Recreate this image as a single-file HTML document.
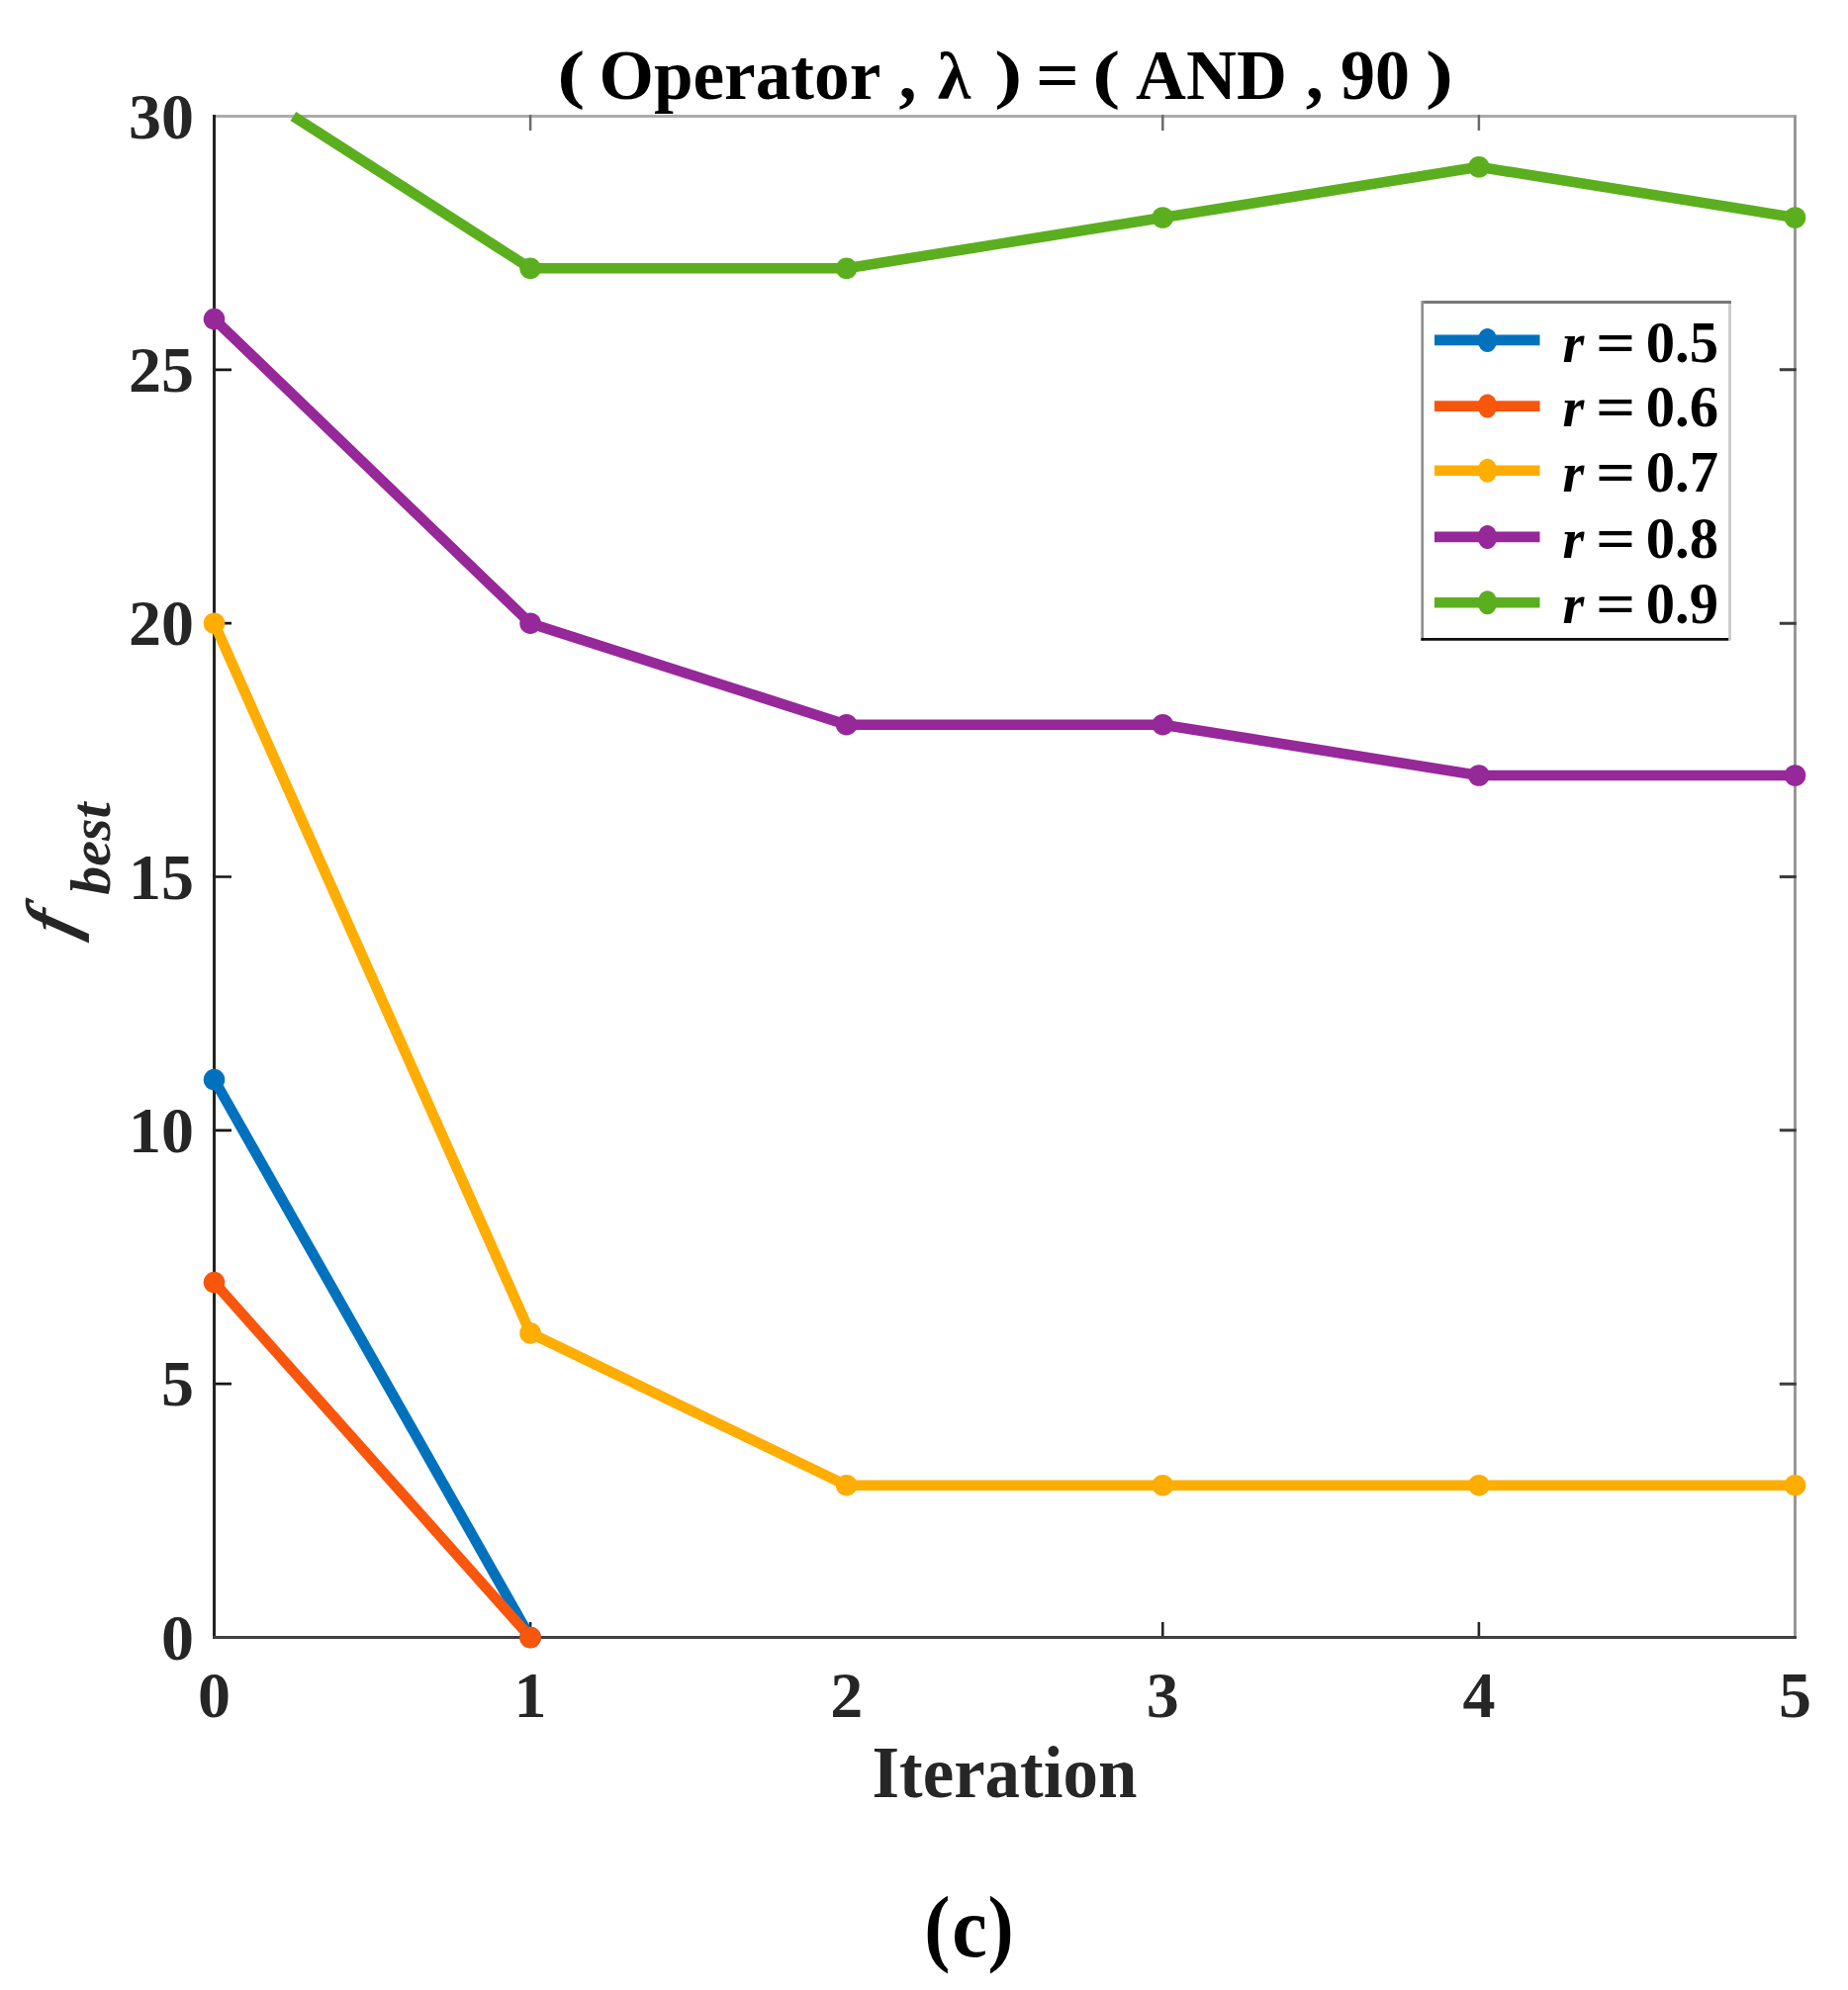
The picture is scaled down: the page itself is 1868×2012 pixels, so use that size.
<!DOCTYPE html>
<html lang="en"><head><meta charset="utf-8"><title>Figure (c)</title>
<style>html,body{margin:0;padding:0;background:#fff}svg{display:block}text{font-family:"Liberation Serif","DejaVu Serif",serif;font-weight:bold}</style>
</head><body>
<svg xmlns="http://www.w3.org/2000/svg" width="1868" height="2012" viewBox="0 0 1868 2012">
<rect width="1868" height="2012" fill="#fff"/>
<g fill="none" stroke-linecap="butt">
<path d="M216.5 117.5H1816" stroke="#ababab" stroke-width="3"/>
<path d="M1814.5 117.5V1655.5" stroke="#929292" stroke-width="2.8"/>
<path d="M536.1 116v16M1175.3 116v16M1494.9 116v16" stroke="#6a6a6a" stroke-width="2.5"/>
<path d="M536.1 1655.5v-15.5M1175.3 1655.5v-15.5M1494.9 1655.5v-15.5" stroke="#262626" stroke-width="2.6"/>
<path d="M216.5 1399.17h17.5M216.5 1142.83h17.5M216.5 886.5h17.5M216.5 630.167h17.5M216.5 373.833h17.5" stroke="#161616" stroke-width="2.7"/>
<path d="M1815.8 1399.17h-17M1815.8 1142.83h-17M1815.8 886.5h-17M1815.8 630.167h-17M1815.8 373.833h-17" stroke="#3c3c3c" stroke-width="3"/>
<path d="M216.5 116V1657" stroke="#222" stroke-width="3"/>
<path d="M215 1655.5H1816" stroke="#404040" stroke-width="3"/>
</g>
<polyline points="216.5,1091.6 536.1,1655.5" fill="none" stroke="#0072BD" stroke-width="10.6" stroke-linejoin="round" stroke-linecap="butt"/>
<polyline points="216.5,1296.6 536.1,1655.5" fill="none" stroke="#F8560C" stroke-width="10.6" stroke-linejoin="round" stroke-linecap="butt"/>
<polyline points="216.5,630.2 536.1,1347.9 855.7,1501.7 1175.3,1501.7 1494.9,1501.7 1814.5,1501.7" fill="none" stroke="#FFAD00" stroke-width="10.6" stroke-linejoin="round" stroke-linecap="butt"/>
<polyline points="216.5,322.6 536.1,630.2 855.7,732.7 1175.3,732.7 1494.9,784.0 1814.5,784.0" fill="none" stroke="#96289A" stroke-width="10.6" stroke-linejoin="round" stroke-linecap="butt"/>
<polyline points="296.4,117.5 536.1,271.3 855.7,271.3 1175.3,220.0 1494.9,168.8 1814.5,220.0" fill="none" stroke="#5BAF1E" stroke-width="10.6" stroke-linejoin="round" stroke-linecap="butt"/>
<circle cx="216.5" cy="1091.6" r="10.8" fill="#0072BD"/>
<circle cx="536.1" cy="1655.5" r="10.8" fill="#0072BD"/>
<circle cx="216.5" cy="1296.6" r="10.8" fill="#F8560C"/>
<circle cx="536.1" cy="1655.5" r="10.8" fill="#F8560C"/>
<circle cx="216.5" cy="630.2" r="10.8" fill="#FFAD00"/>
<circle cx="536.1" cy="1347.9" r="10.8" fill="#FFAD00"/>
<circle cx="855.7" cy="1501.7" r="10.8" fill="#FFAD00"/>
<circle cx="1175.3" cy="1501.7" r="10.8" fill="#FFAD00"/>
<circle cx="1494.9" cy="1501.7" r="10.8" fill="#FFAD00"/>
<circle cx="1814.5" cy="1501.7" r="10.8" fill="#FFAD00"/>
<circle cx="216.5" cy="322.6" r="10.8" fill="#96289A"/>
<circle cx="536.1" cy="630.2" r="10.8" fill="#96289A"/>
<circle cx="855.7" cy="732.7" r="10.8" fill="#96289A"/>
<circle cx="1175.3" cy="732.7" r="10.8" fill="#96289A"/>
<circle cx="1494.9" cy="784.0" r="10.8" fill="#96289A"/>
<circle cx="1814.5" cy="784.0" r="10.8" fill="#96289A"/>
<circle cx="536.1" cy="271.3" r="10.8" fill="#5BAF1E"/>
<circle cx="855.7" cy="271.3" r="10.8" fill="#5BAF1E"/>
<circle cx="1175.3" cy="220.0" r="10.8" fill="#5BAF1E"/>
<circle cx="1494.9" cy="168.8" r="10.8" fill="#5BAF1E"/>
<circle cx="1814.5" cy="220.0" r="10.8" fill="#5BAF1E"/>
<g font-size="66" fill="#262626">
<text x="196" y="1677.5" text-anchor="end">0</text>
<text x="196" y="1421.2" text-anchor="end">5</text>
<text x="196" y="1164.8" text-anchor="end">10</text>
<text x="196" y="908.5" text-anchor="end">15</text>
<text x="196" y="652.2" text-anchor="end">20</text>
<text x="196" y="395.8" text-anchor="end">25</text>
<text x="196" y="139.5" text-anchor="end">30</text>
<text x="216.5" y="1736" text-anchor="middle">0</text>
<text x="536.1" y="1736" text-anchor="middle">1</text>
<text x="855.7" y="1736" text-anchor="middle">2</text>
<text x="1175.3" y="1736" text-anchor="middle">3</text>
<text x="1494.9" y="1736" text-anchor="middle">4</text>
<text x="1814.5" y="1736" text-anchor="middle">5</text>
</g>
<g fill="#000">
<text x="563.3" y="97.4" font-size="66" textLength="28" lengthAdjust="spacingAndGlyphs">(</text>
<text x="605.5" y="100.0" font-size="72" textLength="284.8" lengthAdjust="spacingAndGlyphs">Operator</text>
<text x="908.4" y="100.0" font-size="72">,</text>
<text x="947.7" y="100.0" font-size="68">λ</text>
<text x="1005.3" y="97.4" font-size="66" textLength="28" lengthAdjust="spacingAndGlyphs">)</text>
<text x="1047.0" y="100.0" font-size="72" textLength="44" lengthAdjust="spacingAndGlyphs">=</text>
<text x="1104.3" y="97.4" font-size="66" textLength="28" lengthAdjust="spacingAndGlyphs">(</text>
<text x="1148.1" y="100.0" font-size="72" textLength="152.7" lengthAdjust="spacingAndGlyphs">AND</text>
<text x="1319.7" y="100.0" font-size="72">,</text>
<text x="1355.0" y="100.0" font-size="72" textLength="70" lengthAdjust="spacingAndGlyphs">90</text>
<text x="1441.0" y="97.4" font-size="66" textLength="28" lengthAdjust="spacingAndGlyphs">)</text>
</g>
<text x="1015.4" y="1817" font-size="73" text-anchor="middle" fill="#262626" textLength="268" lengthAdjust="spacingAndGlyphs">Iteration</text>
<text transform="translate(75,949.5) rotate(-90) skewX(-15)" font-style="italic" font-size="70" fill="#262626">f</text>
<text transform="translate(111,904.8) rotate(-90)" font-style="italic" font-size="58" fill="#262626">best</text>
<g>
<rect x="1437" y="305" width="312" height="342" fill="#fff" stroke="none"/>
<path d="M1437.75 304.1V647.7" stroke="#8f8f8f" stroke-width="2.7" fill="none"/>
<path d="M1748.55 304.1V647.7" stroke="#c8c8c8" stroke-width="2.7" fill="none"/>
<path d="M1439.1 305.5H1749.9" stroke="#777" stroke-width="2.8" fill="none"/>
<path d="M1436.4 646.35H1747.2" stroke="#0c0c0c" stroke-width="2.7" fill="none"/>
<path d="M1450 343.9H1556.5" stroke="#0072BD" stroke-width="10.6" fill="none"/>
<ellipse cx="1503.5" cy="343.9" rx="9.8" ry="12" fill="#0072BD"/>
<text x="1579.5" y="365.5" font-size="56" font-style="italic" fill="#000">r</text>
<text x="1613.1" y="365.5" font-size="60" fill="#000" textLength="40.3" lengthAdjust="spacingAndGlyphs">=</text>
<text x="1663.7" y="365.5" font-size="60" fill="#000" textLength="73.3" lengthAdjust="spacingAndGlyphs">0.5</text>
<path d="M1450 410.6H1556.5" stroke="#F8560C" stroke-width="10.6" fill="none"/>
<ellipse cx="1503.5" cy="410.6" rx="9.8" ry="12" fill="#F8560C"/>
<text x="1579.5" y="431.2" font-size="56" font-style="italic" fill="#000">r</text>
<text x="1613.1" y="431.2" font-size="60" fill="#000" textLength="40.3" lengthAdjust="spacingAndGlyphs">=</text>
<text x="1663.7" y="431.2" font-size="60" fill="#000" textLength="73.3" lengthAdjust="spacingAndGlyphs">0.6</text>
<path d="M1450 475.8H1556.5" stroke="#FFAD00" stroke-width="10.6" fill="none"/>
<ellipse cx="1503.5" cy="475.8" rx="9.8" ry="12" fill="#FFAD00"/>
<text x="1579.5" y="497.2" font-size="56" font-style="italic" fill="#000">r</text>
<text x="1613.1" y="497.2" font-size="60" fill="#000" textLength="40.3" lengthAdjust="spacingAndGlyphs">=</text>
<text x="1663.7" y="497.2" font-size="60" fill="#000" textLength="73.3" lengthAdjust="spacingAndGlyphs">0.7</text>
<path d="M1450 542.9H1556.5" stroke="#96289A" stroke-width="10.6" fill="none"/>
<ellipse cx="1503.5" cy="542.9" rx="9.8" ry="12" fill="#96289A"/>
<text x="1579.5" y="564" font-size="56" font-style="italic" fill="#000">r</text>
<text x="1613.1" y="564" font-size="60" fill="#000" textLength="40.3" lengthAdjust="spacingAndGlyphs">=</text>
<text x="1663.7" y="564" font-size="60" fill="#000" textLength="73.3" lengthAdjust="spacingAndGlyphs">0.8</text>
<path d="M1450 609.2H1556.5" stroke="#5BAF1E" stroke-width="10.6" fill="none"/>
<ellipse cx="1503.5" cy="609.2" rx="9.8" ry="12" fill="#5BAF1E"/>
<text x="1579.5" y="630" font-size="56" font-style="italic" fill="#000">r</text>
<text x="1613.1" y="630" font-size="60" fill="#000" textLength="40.3" lengthAdjust="spacingAndGlyphs">=</text>
<text x="1663.7" y="630" font-size="60" fill="#000" textLength="73.3" lengthAdjust="spacingAndGlyphs">0.9</text>
</g>
<g font-size="87" fill="#000">
<text x="934.25" y="1977" font-weight="normal" textLength="26.2" lengthAdjust="spacingAndGlyphs">(</text>
<text x="962.25" y="1977.6" textLength="35.6" lengthAdjust="spacingAndGlyphs">c</text>
<text x="998.5" y="1977" font-weight="normal" textLength="26.2" lengthAdjust="spacingAndGlyphs">)</text>
</g>
</svg>
</body></html>
